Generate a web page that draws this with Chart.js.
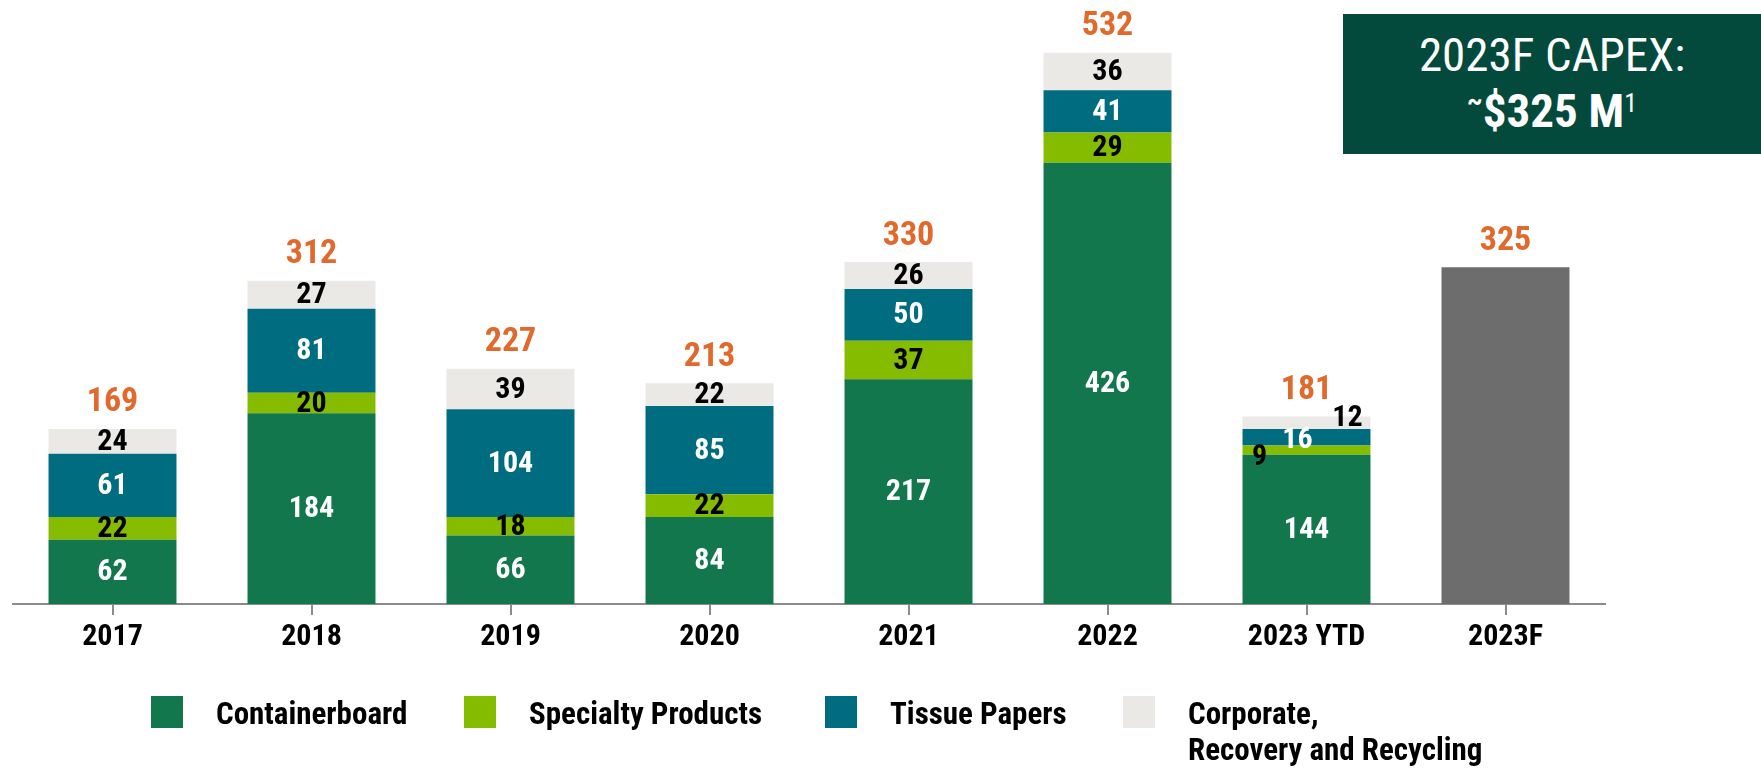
<!DOCTYPE html>
<html><head><meta charset="utf-8">
<script src="https://cdn.jsdelivr.net/npm/chart.js@4.4.0/dist/chart.umd.min.js"></script>
<style>
html,body{margin:0;padding:0;background:#fff;}
#wrap{position:relative;width:1761px;height:768px;overflow:hidden;}
canvas{display:block}
#box{position:absolute;left:1343px;top:14px;width:418px;height:140px;background:#034A3C;color:#fff;text-align:center;
 font-family:'Roboto Condensed','Roboto',sans-serif;}
#box .l{position:absolute;left:0;right:0;height:56px;line-height:56px;font-size:47px;white-space:nowrap;}
#box .l1{top:13px;font-weight:normal;}
#box .l2{top:69px;font-weight:bold;}
#box sup{font-size:26px;vertical-align:top;line-height:40px;font-weight:normal;}
#box .t{font-size:28px;vertical-align:top;line-height:36px;}
</style></head><body>
<div id="wrap"><canvas id="c" width="1761" height="768"></canvas>
<div id="box"><div class="l l1">2023F CAPEX:</div><div class="l l2"><span class="t">~</span>$325 M<sup>1</sup></div></div></div>
<script>
const categories = ['2017','2018','2019','2020','2021','2022','2023 YTD','2023F'];
const containerboard = [62,184,66,84,217,426,144,null];
const specialtyProducts = [22,20,18,22,37,29,9,null];
const tissuePapers = [61,81,104,85,50,41,16,null];
const corporateRecycling = [24,27,39,22,26,36,12,null];
const forecast = [null,null,null,null,null,null,null,325];
const totals = [169,312,227,213,330,532,181,325];
const seriesNames = ['Containerboard','Specialty Products','Tissue Papers',['Corporate,','Recovery and Recycling']];

const FONT = "'Roboto Condensed','Roboto',sans-serif";
const colors = ['#12774D','#86BC00','#006C80','#EAE9E5'];
const labelColors = ['#ffffff','#000000','#ffffff','#000000'];

const segLabels = {
  id:'segLabels',
  afterDatasetsDraw(chart, args, opts){
    const ctx = chart.ctx;
    ctx.save();
    ctx.textAlign = 'center';
    ctx.textBaseline = 'middle';
    ctx.font = 'bold 30px ' + FONT;
    chart.data.datasets.forEach((ds, di) => {
      if (!ds.showValues) return;
      const meta = chart.getDatasetMeta(di);
      meta.data.forEach((bar, i) => {
        const v = ds.data[i];
        if (v == null) return;
        const off = (opts.offsets[di] && opts.offsets[di][i]) || [0,0];
        ctx.fillStyle = ds.valueColor;
        ctx.fillText(String(v), bar.x + off[0], (bar.y + bar.base)/2 + off[1] + 1);
      });
    });
    ctx.font = 'bold 34px ' + FONT;
    ctx.fillStyle = '#E0692B';
    totals.forEach((t, i) => {
      let top = Infinity, x = 0;
      chart.data.datasets.forEach((ds, di) => {
        if (ds.data[i] == null) return;
        const el = chart.getDatasetMeta(di).data[i];
        if (el.y < top) { top = el.y; x = el.x; }
      });
      ctx.fillText(String(t), x, top - 26);
    });
    ctx.restore();
  }
};

const customLegend = {
  id:'customLegend',
  afterDraw(chart, args, opts){
    const ctx = chart.ctx;
    ctx.save();
    ctx.font = 'bold 31px ' + FONT;
    ctx.textAlign = 'left';
    ctx.textBaseline = 'alphabetic';
    seriesNames.forEach((name, i) => {
      const x = opts.x[i];
      ctx.fillStyle = colors[i];
      ctx.fillRect(x, opts.top, opts.w, opts.h);
      ctx.fillStyle = '#000';
      const lines = Array.isArray(name) ? name : [name];
      lines.forEach((ln, k) => ctx.fillText(ln, x + opts.gap, opts.baseline + k*opts.lineH));
    });
    ctx.restore();
  }
};

const datasets = [containerboard, specialtyProducts, tissuePapers, corporateRecycling].map((d, i) => ({
  label: Array.isArray(seriesNames[i]) ? seriesNames[i].join(' ') : seriesNames[i],
  data: d,
  backgroundColor: colors[i],
  borderWidth: 0,
  showValues: true,
  valueColor: labelColors[i]
}));
datasets.push({label:'2023F', data: forecast, backgroundColor:'#6D6D6D', borderWidth:0, showValues:false});

new Chart(document.getElementById('c'), {
  type:'bar',
  data:{labels:categories, datasets},
  options:{
    responsive:false, animation:false, devicePixelRatio:1,
    layout:{padding:{left:13,right:156,top:0,bottom:109}},
    datasets:{bar:{categoryPercentage:1, barPercentage:0.643}},
    scales:{
      x:{stacked:true,
        grid:{display:true,drawOnChartArea:false,drawTicks:true,tickLength:11,offset:false,color:'#8c8c8c',lineWidth:2},
        border:{display:true,color:'#8c8c8c',width:2},
        ticks:{color:'#000',padding:4,font:{family:FONT,size:30,weight:'bold'}}},
      y:{stacked:true,display:false,min:0,max:583}
    },
    plugins:{
      legend:{display:false}, tooltip:{enabled:false},
      segLabels:{offsets:{1:{6:[-47,6]},2:{6:[-9,2]},3:{6:[41,-5]}}},
      customLegend:{x:[151,464,825,1123],top:696,w:32,h:32,gap:65,baseline:724,lineH:36}
    }
  },
  plugins:[segLabels, customLegend]
});
</script>
</body></html>
